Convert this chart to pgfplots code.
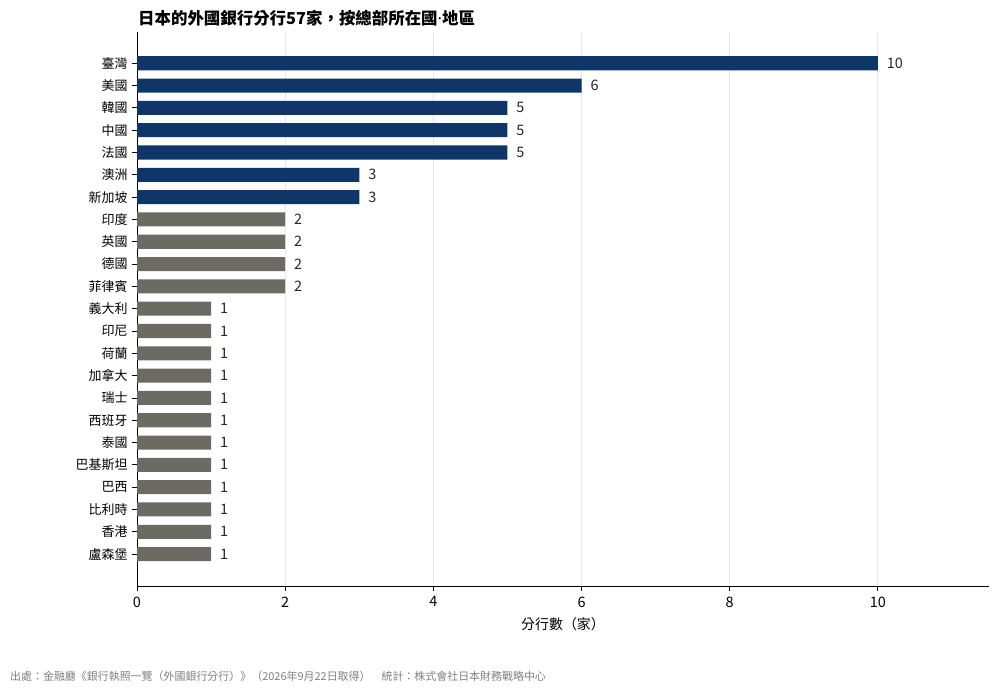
\documentclass[border=0pt]{standalone}
\usepackage{pgfplots}
\pgfplotsset{compat=1.18}
\usepackage{fontspec}
\setmainfont{Noto Sans CJK TC}
\newfontfamily\latinfont{Noto Sans}
\definecolor{navy}{HTML}{0E3669}
\definecolor{stone}{HTML}{6B6B63}
\definecolor{gridgray}{HTML}{E6E6E6}

\begin{document}
\begin{tikzpicture}[x=1bp,y=1bp]
\useasboundingbox (0,0) rectangle (999,693);
\node[anchor=west, inner sep=0pt, font=\fontsize{16.5}{18}\selectfont\bfseries] at (138,675)
  {日本的外國銀行分行57家，按總部所在國{\latinfont ·}地區};
\begin{axis}[
    at={(137bp,107bp)}, anchor=south west,
    width=852bp, height=554bp, scale only axis,
    xmin=0, xmax=11.5,
    ymin=-1.4, ymax=23.43, y dir=reverse,
    axis x line*=bottom, axis y line*=left,
    axis line style={black, line width=0.9bp, -},
    xtick={0,2,...,10},
    ytick={0,...,22},
    yticklabels={臺灣,美國,韓國,中國,法國,澳洲,新加坡,印度,英國,德國,菲律賓,義大利,印尼,荷蘭,加拿大,瑞士,西班牙,泰國,巴基斯坦,巴西,比利時,香港,盧森堡},
    tick align=outside, major tick length=5bp,
    tick style={black, line width=0.8bp},
    xmajorgrids=true,
    grid style={gridgray, line width=0.8bp},
    /pgf/number format/assume math mode=true,
    xticklabel style={font=\fontsize{14.5}{16}\selectfont, yshift=-2bp},
    yticklabel style={font=\fontsize{13}{15}\selectfont, xshift=-1bp},
    xlabel={分行數（家）},
    xlabel style={font=\fontsize{14}{16}\selectfont, yshift=-4bp},
    xbar, bar width=0.63, bar shift=0pt,
    point meta=x,
    nodes near coords,
    every node near coord/.append style={anchor=west, font=\fontsize{14.5}{16}\selectfont, xshift=5.5bp, black!85},
]
\addplot[draw=none, fill=navy] coordinates {
  (10,0) (6,1) (5,2) (5,3) (5,4) (3,5) (3,6)
};
\addplot[draw=none, fill=stone] coordinates {
  (2,7) (2,8) (2,9) (2,10)
  (1,11) (1,12) (1,13) (1,14) (1,15) (1,16) (1,17) (1,18) (1,19) (1,20) (1,21) (1,22)
};
\end{axis}
\node[anchor=west, inner sep=0pt, font=\fontsize{11}{13}\selectfont, text=black!50] at (10,17)
  {出處：金融廳《銀行執照一覽（外國銀行分行）》（2026年9月22日取得）　統計：株式會社日本財務戰略中心};
\end{tikzpicture}
\end{document}
